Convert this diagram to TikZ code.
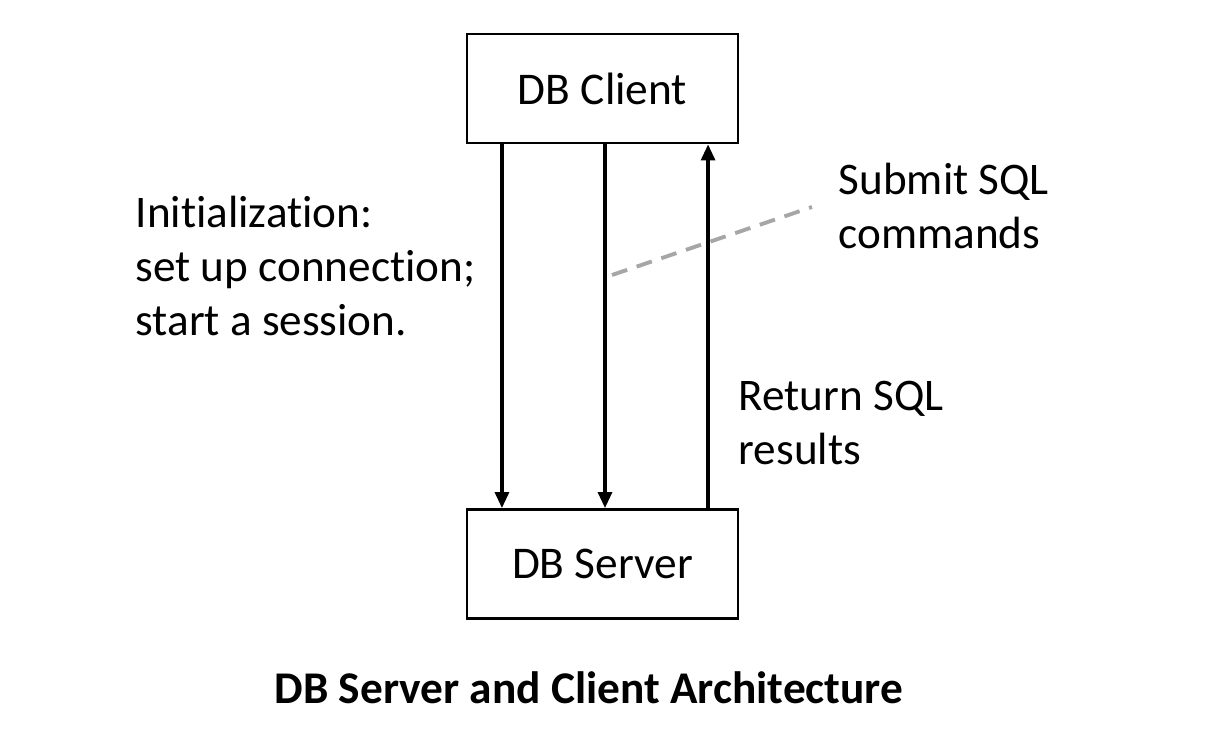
\documentclass[tikz,border=0pt]{standalone}
\usepackage{fontspec}
\setmainfont{Carlito}[Ligatures=NoCommon]
\usetikzlibrary{arrows.meta,positioning}

\tikzset{
  dbbox/.style={draw, line width=0.8pt, minimum width=2.71cm, minimum height=1.09cm,
    inner sep=0pt, font=\fontsize{12.9}{15.4}\selectfont},
  msg/.style={-{Triangle[length=0.16cm,width=0.14cm]}, line width=0.9pt},
  note/.style={align=left, anchor=north west, inner sep=0pt,
    font=\fontsize{12.85}{15.4}\selectfont},
  pointer/.style={draw=black!35, line width=1.1pt, dash pattern=on 0.16cm off 0.1cm}
}

\begin{document}
\begin{tikzpicture}[x=0.01cm,y=-0.01cm]
\useasboundingbox (0,0) rectangle (1209,743);

% the two ends
\node[dbbox] (client) at (602.5,88.5) {DB Client};
\node[dbbox] (server) at (602.5,564) {DB Server};

% messages between them
\draw[msg] ([xshift=-1.005cm]client.south) -- ([xshift=-1.005cm]server.north);
\draw[msg] ([xshift=0.025cm]client.south) -- ([xshift=0.025cm]server.north);
\draw[msg] ([xshift=1.055cm]server.north) -- ([xshift=1.055cm]client.south);

% labels
\node[note] (init) at (135,195) {Initialization:\\set up connection;\\start a session.};
\node[note] (submit) at (838,162) {Submit SQL\\commands};
\node[note] (result) at (738,380) {Return SQL\\results};

\coordinate (dashA) at (612,275);
\coordinate (dashB) at (812,207);
\draw[pointer] (dashA) -- (dashB);

\node[font=\fontsize{12.9}{15}\selectfont\bfseries] (title) at (589,688) {DB Server and Client Architecture};
\end{tikzpicture}
\end{document}
